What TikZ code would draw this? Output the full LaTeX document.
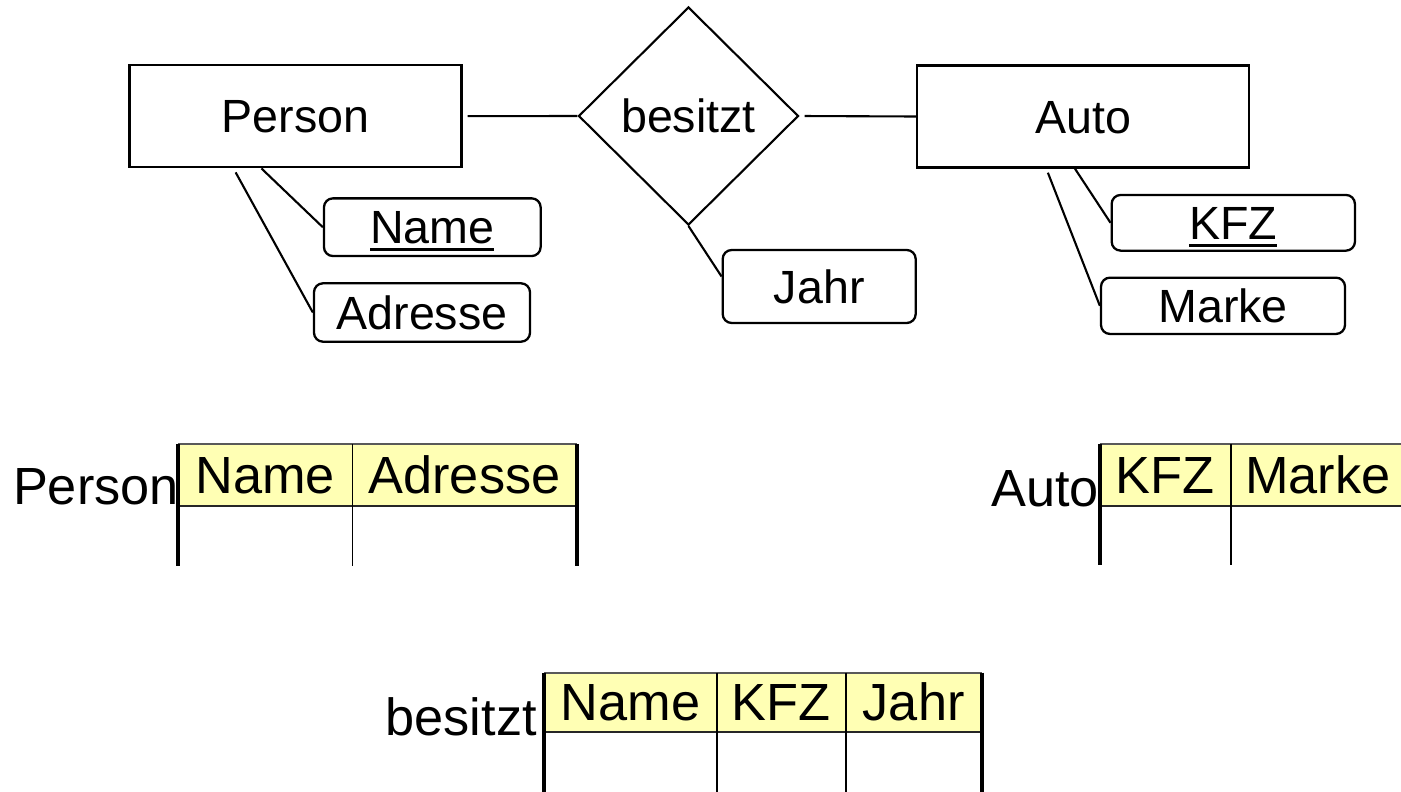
\documentclass[tikz,border=0pt]{standalone}
\usepackage{fontspec}
\setmainfont{Liberation Sans}
\usetikzlibrary{shapes.geometric,calc}
\definecolor{hdrfill}{RGB}{255,255,180}
% underlined key attribute
\newcommand\keyattr[1]{\setbox0\hbox{#1}\rlap{\rule[-7.2pt]{\wd0}{2.5pt}}\box0}
\begin{document}
\begin{tikzpicture}[x=1pt,y=-1pt,
  erfont/.style={font=\fontsize{46.6}{50}\selectfont, text height=33pt, text depth=0pt},
  tabfont/.style={font=\fontsize{52.3}{56}\selectfont},
  entity/.style={draw, rectangle, line width=2.4pt, minimum width=332pt,
    minimum height=102pt, inner sep=0pt, erfont},
  relship/.style={draw, diamond, line width=2.1pt, minimum width=220pt,
    minimum height=218pt, inner sep=0pt, erfont},
  attrib/.style={draw, rectangle, rounded corners=9pt, line width=2.3pt,
    inner sep=0pt, erfont},
  link/.style={line width=2.1pt},
  hdr/.style={fill=hdrfill, inner sep=0pt, tabfont, text height=37.5pt, text depth=0pt},
  tablabel/.style={inner sep=0pt, tabfont, anchor=base east},
  topline/.style={line width=2pt, black!65},
  hdrline/.style={line width=2.2pt, black!85},
  outercol/.style={line width=3.6pt},
  innercol/.style={line width=1.8pt}
]
\useasboundingbox (0,0) rectangle (1401,792);
\fill[white] (0,0) rectangle (1401,792);
\clip (0,0) rectangle (1401,792);

% ---------- ER diagram ----------
\node[entity] (person) at (295.5,116.2) {Person};
\node[relship] (rel) at (688.5,116) {besitzt};
\node[entity] (auto) at (1083,116.5) {Auto};

\node[attrib, minimum width=216.7pt, minimum height=57.7pt] (name) at (432.3,227.2) {\keyattr{Name}};
\node[attrib, minimum width=216pt, minimum height=58.4pt] (adresse) at (422,312.5) {Adresse};
\node[attrib, minimum width=193pt, minimum height=73pt] (jahr) at (819.2,286.5) {Jahr};
\node[attrib, minimum width=243.3pt, minimum height=55.7pt] (kfz) at (1233.3,222.8) {\keyattr{KFZ}};
\node[attrib, minimum width=244pt, minimum height=56.3pt] (marke) at (1223,305.8) {Marke};

\draw[link, shorten <=5pt] (person.east) -- (rel.west);
\draw[link, shorten <=5pt] (rel.east) -- (auto.west);
\draw[link] ($(person.south west)!0.398!(person.south east)$) -- (name.west);
\draw[link] ($(person.south west)!0.321!(person.south east)+(0,4)$) -- (adresse.west);
\draw[link] (rel.south) -- ([yshift=10pt]jahr.west);
\draw[link] ($(auto.south west)!0.476!(auto.south east)$) -- (kfz.west);
\draw[link] ($(auto.south west)!0.395!(auto.south east)+(0,4)$) -- (marke.west);

% ---------- table Person ----------
\node[hdr, minimum width=174pt, minimum height=62pt] (pName) at (265.3,475) {Name};
\node[hdr, minimum width=224.4pt, minimum height=62pt] (pAdr) at (464.5,475) {Adresse};
\coordinate (pBot) at (0,566);
\node[tablabel] (pLabel) at (179,504.3) {Person};
\draw[topline] (pName.north west) -- (pAdr.north east);
\draw[hdrline] (pName.south west) -- (pAdr.south east);
\draw[outercol] (pName.north west) -- (pName.north west |- pBot);
\draw[innercol] (pName.north east) -- (pName.north east |- pBot);
\draw[outercol] (pAdr.north east) -- (pAdr.north east |- pBot);

% ---------- table Auto ----------
\node[hdr, minimum width=130.7pt, minimum height=62pt] (aKFZ) at (1165.3,475) {KFZ};
\node[hdr, minimum width=174.3pt, minimum height=62pt] (aMarke) at (1317.9,475) {Marke};
\coordinate (aBot) at (0,565);
\node[tablabel] (aLabel) at (1099,506.7) {Auto};
\draw[topline] (aKFZ.north west) -- (aMarke.north east);
\draw[hdrline] (aKFZ.south west) -- (aMarke.south east);
\draw[outercol] (aKFZ.north west) -- (aKFZ.north west |- aBot);
\draw[innercol] (aKFZ.north east) -- (aKFZ.north east |- aBot);

% ---------- table besitzt ----------
\node[hdr, minimum width=172.7pt, minimum height=59pt] (bName) at (630.35,702.2) {Name};
\node[hdr, minimum width=129pt, minimum height=59pt] (bKFZ) at (781.2,702.2) {KFZ};
\node[hdr, minimum width=136pt, minimum height=59pt] (bJahr) at (913.7,702.2) {Jahr};
\coordinate (bBot) at (0,795);
\node[tablabel] (bLabel) at (537,735) {besitzt};
\draw[topline] (bName.north west) -- (bJahr.north east);
\draw[hdrline] (bName.south west) -- (bJahr.south east);
\draw[outercol] (bName.north west) -- (bName.north west |- bBot);
\draw[innercol] (bName.north east) -- (bName.north east |- bBot);
\draw[innercol] (bKFZ.north east) -- (bKFZ.north east |- bBot);
\draw[outercol] (bJahr.north east) -- (bJahr.north east |- bBot);
\end{tikzpicture}
\end{document}
